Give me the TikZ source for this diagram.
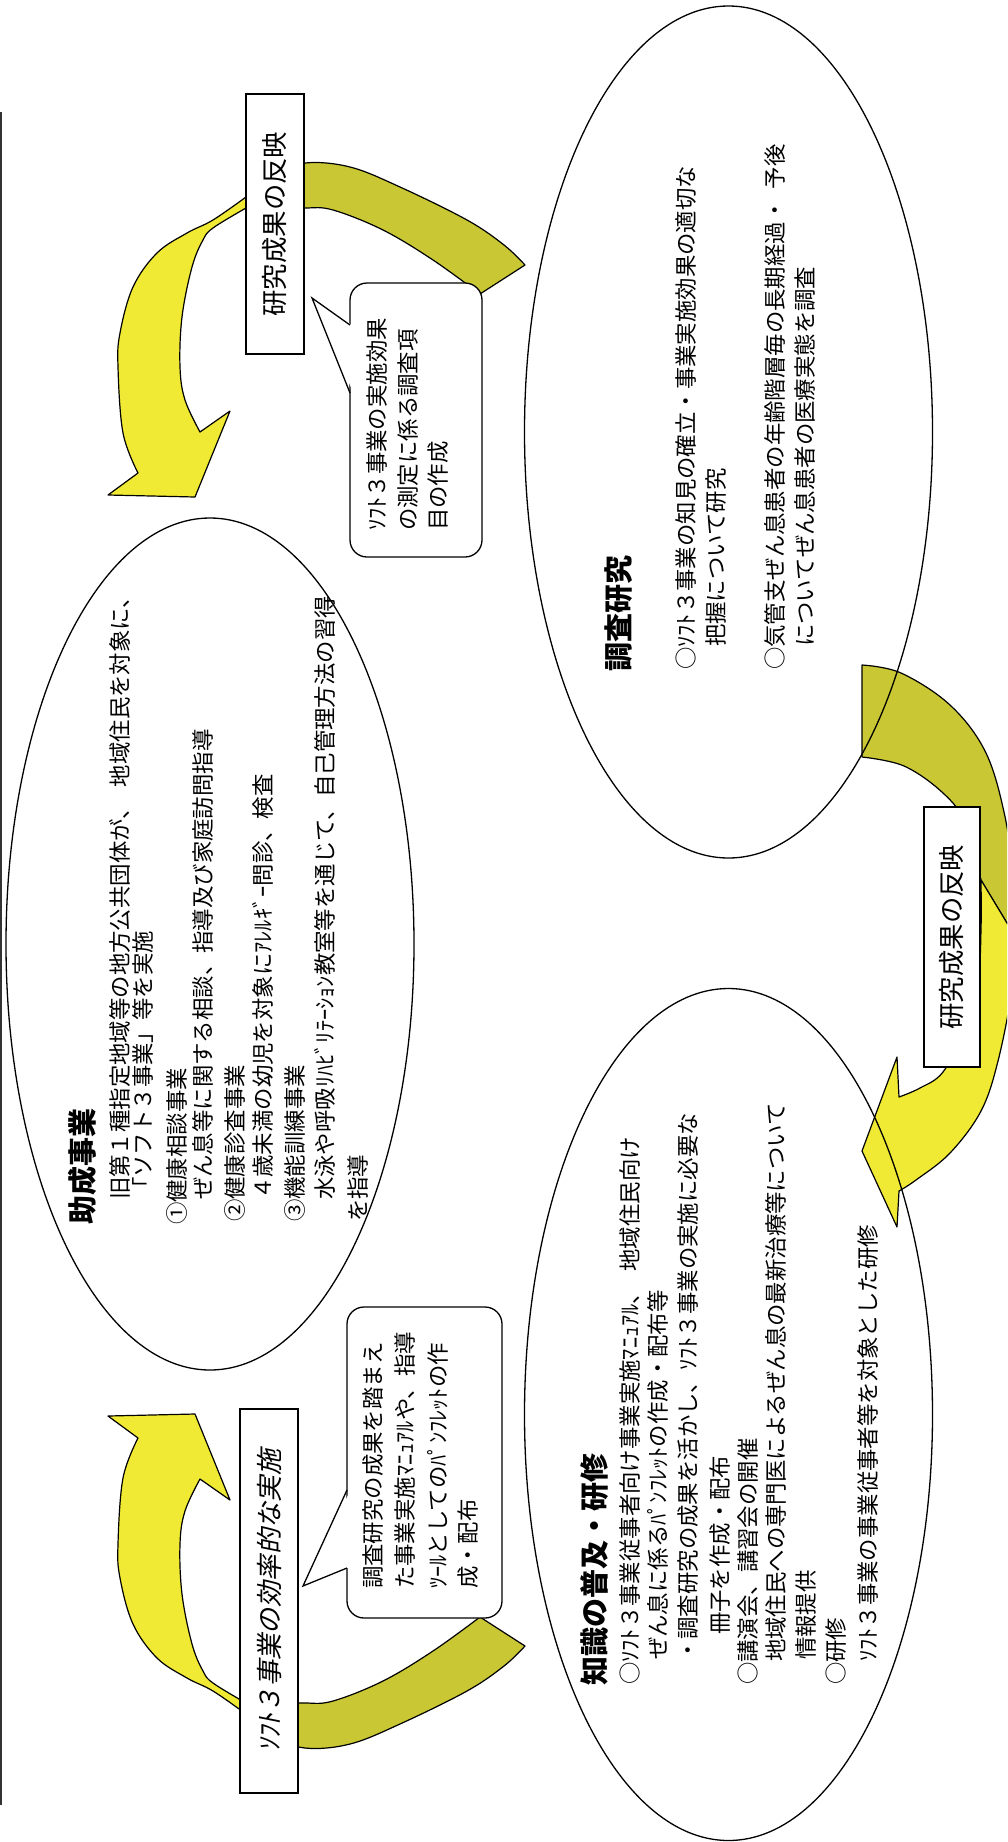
\documentclass[tikz,border=0pt]{standalone}
\usepackage{fontspec}
\setmainfont{Noto Sans CJK JP}
\newfontfamily\jpslant{Noto Sans CJK JP}[FakeSlant=0.2]
\usetikzlibrary{shapes.geometric}
\definecolor{olivec}{RGB}{201,199,51}
\definecolor{yellowc}{RGB}{241,234,52}
\newcommand{\arrowAshape}{%
  \filldraw[olivepart] (525,265) -- plot[smooth, tension=0.6] coordinates {(525,265) (504,245) (467,220) (400,187) (350,167) (305,163) (270,175) (250,188)} -- (250,214) -- plot[smooth, tension=0.6] coordinates {(250,214) (270,210) (305,208) (333,210) (383,230) (433,260) (480,294)} -- cycle;
  \filldraw[yellowpart] (252,190) -- plot[smooth, tension=0.6] coordinates {(246,197) (213,220) (187,233) (157,253) (133,287) (120,333) (118,367) (123,433) (138,473)} -- (108,495) -- (195,497) -- (230,411) -- (200,432) -- plot[smooth, tension=0.6] coordinates {(200,432) (185,400) (180,367) (182,317) (192,267) (203,240) (213,228) (246,208)} -- (252,207) -- cycle;
}
\newcommand{\hsp}{\hspace{0.45em}}
\tikzset{
  olivepart/.style={fill=olivec, draw=black, line width=1.2pt, line join=round},
  yellowpart/.style={fill=yellowc, draw=black, line width=1.2pt, line join=round},
  oval/.style={ellipse, draw=black, line width=1.3pt, inner sep=0pt, minimum width=408pt, minimum height=852pt},
  lbl/.style={draw=black, line width=1.8pt, fill=white, rotate=90, inner sep=0pt, font=\fontsize{26.4}{30}\selectfont},
  cbox/.style={draw=black, line width=1.3pt, fill=white, rounded corners=17pt, inner sep=0pt},
  txt/.style={rotate=90, anchor=west, inner sep=0pt, font=\fontsize{22.4}{27}\selectfont},
  head/.style={rotate=90, anchor=west, inner sep=0pt, font=\fontsize{29}{32}\selectfont\bfseries},
}
\begin{document}
\begin{tikzpicture}[x=1pt, y=-1pt]
\useasboundingbox (0,0) rectangle (1007,1842);
\fill[white] (0,0) rectangle (1007,1842);
\begin{scope}
\clip (0,0) rectangle (1007,1842);
% arrow A (top)
\arrowAshape
% arrow C (bottom, mirror of A)
\begin{scope}[shift={(0,1911)}, yscale=-1]
\arrowAshape
\end{scope}
% arrow B (right)
\filldraw[olivepart] (862,665) -- plot[smooth, tension=0.6] coordinates {(862,665) (901,673) (950,705) (985,751) (1004,812) (1014,880) (1016,938)} -- (981,880) -- plot[smooth, tension=0.6] coordinates {(981,880) (966,824) (943,793) (904,766) (862,757)} -- cycle;
\filldraw[yellowpart] (981,880) -- (1016,938) -- plot[smooth, tension=0.6] coordinates {(1016,938) (1012,990) (998,1061) (981,1111) (950,1153) (916,1180) (899,1191)} -- (897,1227) -- (862,1151) -- (897,1057) -- (899,1097) -- plot[smooth, tension=0.6] coordinates {(899,1097) (920,1088) (943,1072) (965,1030) (978,980) (981,930) (981,880)} -- cycle;
\end{scope}
% left line
\coordinate (lt) at (1,112);
\coordinate (lb) at (1,1805);
\draw[line width=1.6pt, black!80] (lt) -- (lb);
% ellipses
\node[oval] (e1) at (210,944) {};
\node[oval] (e2) at (728.5,432) {};
\node[oval] (e3) at (728.5,1414.5) {};
% label boxes
\node[lbl, minimum width=260pt, minimum height=58pt] (b1) at (275,224) {研究成果の反映};
\node[lbl, minimum width=260pt, minimum height=56pt] (b2) at (952,937) {研究成果の反映};
\node[lbl, minimum width=384pt, minimum height=58pt, font=\fontsize{26.4}{30}\jpslant] (b3) at (269,1601) {ｿﾌﾄ３事業の効率的な実施};
% callout 1
\node[cbox, minimum width=132pt, minimum height=274pt] (c1) at (416,420) {};
\fill[white] (353,326) -- (312,298) -- (353,392) -- cycle;
\draw[line width=1.3pt, line join=miter] (350,325) -- (312,298) -- (350,393);
% callout 2
\node[cbox, minimum width=155pt, minimum height=311pt] (c2) at (424.5,1462.5) {};
\fill[white] (350,1491) -- (303,1586) -- (350,1567) -- cycle;
\draw[line width=1.3pt, line join=miter] (347,1490) -- (303,1586) -- (347,1568);
% callout texts
\node[txt] (c1a) at (377,531) {ｿﾌﾄ３事業の実施効果};
\node[txt] (c1b) at (408,531) {の測定に係る調査項};
\node[txt] (c1c) at (438,531) {目の作成};
\node[txt] (c2a) at (373,1589) {調査研究の成果を踏まえ};
\node[txt] (c2b) at (405,1589) {た事業実施ﾏﾆｭｱﾙや、指導};
\node[txt] (c2c) at (438,1589) {ﾂｰﾙとしてのﾊﾟﾝﾌﾚｯﾄの作};
\node[txt] (c2d) at (468,1589) {成・配布};
% ellipse 1 texts
\node[head] (e1h) at (82,1225) {助成事業};
\node[txt] (e1a) at (120,1200) {旧第１種指定地域等の地方公共団体が、\hsp 地域住民を対象に、};
\node[txt] (e1b) at (143,1200) {「ソフト３事業」等を実施};
\node[txt] (e1c) at (177,1225) {①健康相談事業};
\node[txt] (e1d) at (203,1200) {ぜん息等に関する相談、指導及び家庭訪問指導};
\node[txt] (e1e) at (235,1222) {②健康診査事業};
\node[txt] (e1f) at (263,1200) {４歳未満の幼児を対象にｱﾚﾙｷﾞｰ問診、検査};
\node[txt] (e1g) at (295,1222) {③機能訓練事業};
\node[txt] (e1i) at (325,1200) {水泳や呼吸ﾘﾊﾋﾞﾘﾃｰｼｮﾝ教室等を通じて、自己管理方法の習得};
\node[txt] (e1j) at (358,1222) {を指導};
% ellipse 2 texts
\node[head] (e2h) at (619,672) {調査研究};
\node[txt] (e2a) at (686,670) {○ｿﾌﾄ３事業の知見の確立・事業実施効果の適切な};
\node[txt] (e2b) at (716,647) {把握について研究};
\node[txt] (e2c) at (775,670) {○気管支ぜん息患者の年齢階層毎の長期経過・\hsp 予後};
\node[txt] (e2d) at (805,647) {についてぜん息患者の医療実態を調査};
% ellipse 3 texts
\node[head] (e3h) at (595,1686) {知識の普及・研修};
\node[txt] (e3a) at (630,1685) {○ｿﾌﾄ３事業従事者向け事業実施ﾏﾆｭｱﾙ、\hsp 地域住民向け};
\node[txt] (e3b) at (658,1660) {ぜん息に係るﾊﾟﾝﾌﾚｯﾄの作成・配布等};
\node[txt] (e3c) at (688,1662) {・調査研究の成果を活かし、ｿﾌﾄ３事業の実施に必要な};
\node[txt] (e3d) at (720,1635) {冊子を作成・配布};
\node[txt] (e3e) at (748,1685) {○講演会、講習会の開催};
\node[txt] (e3f) at (776,1662) {地域住民への専門医によるぜん息の最新治療等について};
\node[txt] (e3g) at (806,1660) {情報提供};
\node[txt] (e3i) at (836,1685) {○研修};
\node[txt] (e3j) at (868,1662) {ｿﾌﾄ３事業の事業従事者等を対象とした研修};
\end{tikzpicture}
\end{document}
